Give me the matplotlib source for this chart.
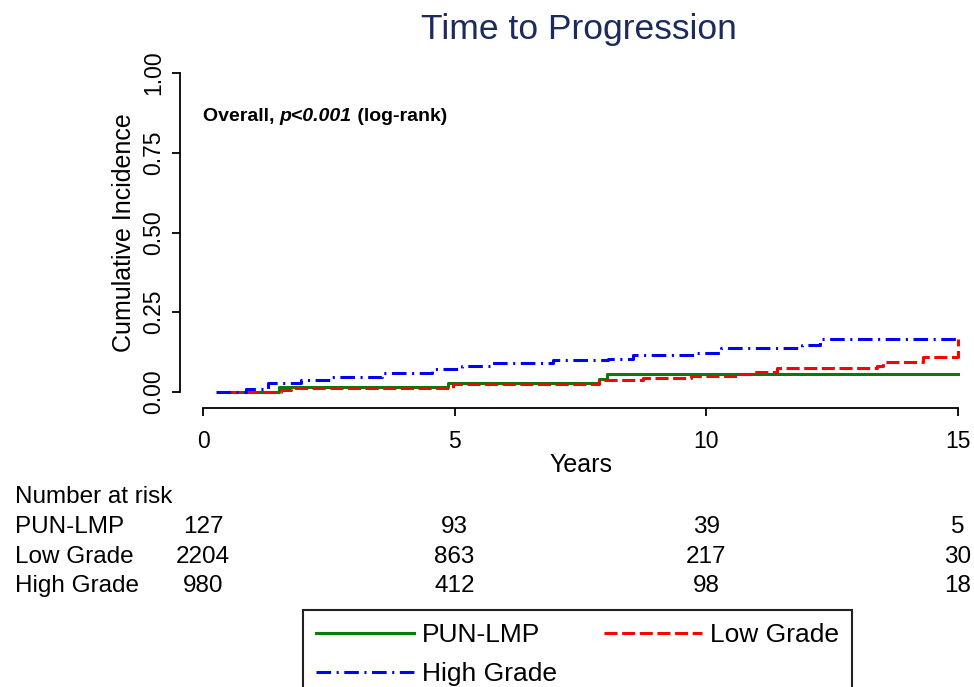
import matplotlib
matplotlib.use("Agg")
import matplotlib.pyplot as plt
from matplotlib.lines import Line2D
import matplotlib.transforms as mtransforms

plt.rcParams['font.family'] = ['Liberation Sans', 'DejaVu Sans']
plt.rcParams['lines.scale_dashes'] = False

# ── data ──
pun_t = [0.5, 1.5, 4.86, 7.87, 8.02, 15]
pun_v = [0.0, 0.015, 0.029, 0.040, 0.056, 0.056]

low_t = [0.5, 1.55, 1.75, 4.96, 7.87, 8.75, 9.7, 10.6, 10.9, 11.4, 13.4, 13.5, 14.3, 15]
low_v = [0.0, 0.005, 0.011, 0.026, 0.038, 0.043, 0.050, 0.056, 0.064, 0.074, 0.081, 0.095, 0.111, 0.165]

high_t = [0.25, 0.85, 1.3, 1.95, 2.55, 3.55, 4.55, 5.15, 5.75, 6.95, 8.05, 8.55,
          9.75, 10.3, 11.9, 12.25, 15]
high_v = [0.0, 0.008, 0.027, 0.038, 0.046, 0.061, 0.071, 0.081, 0.092, 0.100, 0.103,
          0.116, 0.123, 0.137, 0.147, 0.165, 0.165]

risk_times = [0, 5, 10, 15]
risk_groups = ['PUN-LMP', 'Low Grade', 'High Grade']
risk_pun = [127, 93, 39, 5]
risk_low = [2204, 863, 217, 30]
risk_high = [980, 412, 98, 18]

GREEN, RED, BLUE = '#0a7a0a', '#ff0000', '#0000ff'
RED_DASH = (9.4, 3.3)
BLUE_DASH = (10.5, 4.0, 1.5, 4.0)
LW = 2.2

# ── figure ──
fig = plt.figure(figsize=(9.74, 6.87), dpi=100)
ax = fig.add_axes([203/974, 1-392/687, 755/974, 319/687])

ax.step(pun_t, pun_v, where='post', color=GREEN, lw=LW, clip_on=False)
ax.step(low_t, low_v, where='post', color=RED, lw=LW, dashes=RED_DASH, clip_on=False)
ax.step(high_t, high_v, where='post', color=BLUE, lw=LW, dashes=BLUE_DASH, clip_on=False)

ax.set_xlim(0, 15)
ax.set_ylim(0, 1)
ax.set_xticks([0, 5, 10, 15])
ax.set_yticks([0, 0.25, 0.5, 0.75, 1.0])
ax.set_yticklabels(['0.00', '0.25', '0.50', '0.75', '1.00'])
for s in ['top', 'right']:
    ax.spines[s].set_visible(False)
ax.spines['left'].set_position(('outward', 16.5))
ax.spines['bottom'].set_position(('outward', 11.5))
ax.spines['left'].set_linewidth(1.3)
ax.spines['bottom'].set_linewidth(1.3)
ax.tick_params(axis='both', length=6, width=1.3, labelsize=16.5, pad=5)
ax.tick_params(axis='x', pad=10)
ax.tick_params(axis='y', labelrotation=90)
for lab in ax.get_yticklabels():
    lab.set_va('center')

ax.set_xlabel('Years', fontsize=18, labelpad=0)
ax.set_ylabel('Cumulative Incidence', fontsize=18, labelpad=4)

# "Overall, p<0.001 (log-rank)" with the p-value in bold italic
fig.canvas.draw()
r = fig.canvas.get_renderer()
inv = ax.transData.inverted()
x = 0.0
for piece, st in [('Overall, ', 'normal'), ('p<0.001', 'italic'), (' (log-rank)', 'normal')]:
    t = ax.text(x, 0.865, piece, fontsize=14, fontweight='bold', style=st, va='center')
    x = inv.transform((t.get_window_extent(r).x1, 0))[0]

fig.text(579/974, 1-30/687, 'Time to Progression', fontsize=25.5,
         color='#1c2b5c', ha='center', va='center')

# number at risk table
tr = mtransforms.blended_transform_factory(ax.transData, fig.transFigure)
fig.text(15/974, 1-497/687, 'Number at risk', fontsize=17.5, va='center')
rows = [risk_pun, risk_low, risk_high]
row_y = [527, 557, 586]
for name, vals, yy in zip(risk_groups, rows, row_y):
    fig.text(15/974, 1-yy/687, name, fontsize=17.5, va='center')
    for t, v in zip(risk_times, vals):
        ax.text(t, 1-yy/687, str(v), fontsize=17.5, ha='center', va='center',
                transform=tr)

handles = [Line2D([], [], color=GREEN, lw=LW),
           Line2D([], [], color=BLUE, lw=LW, dashes=BLUE_DASH),
           Line2D([], [], color=RED, lw=LW, dashes=RED_DASH)]
labels = ['PUN-LMP', 'High Grade', 'Low Grade']
leg = fig.legend(handles, labels, ncol=2, loc='upper left',
                 bbox_to_anchor=(303/974, 1-610/687), borderaxespad=0,
                 fontsize=19, frameon=True, fancybox=False, edgecolor='#222222',
                 framealpha=1, handlelength=3.7, columnspacing=1.8,
                 borderpad=0.5, labelspacing=0.56, handletextpad=0.3)
leg.get_frame().set_linewidth(1.5)

fig.savefig('out.png', dpi=100, facecolor='white')
